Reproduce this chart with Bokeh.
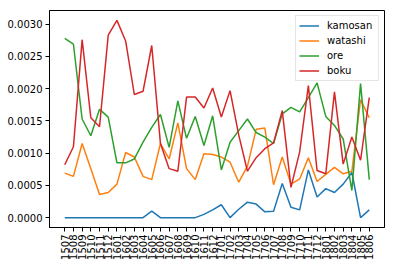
import math
from bokeh.plotting import figure
from bokeh.models import Range1d, FixedTicker, PrintfTickFormatter, Legend, LegendItem
from bokeh.embed import file_html
from bokeh.resources import INLINE

periods = ["1507", "1508", "1509", "1510", "1511", "1512",
           "1601", "1602", "1603", "1604", "1605", "1606", "1607", "1608", "1609", "1610", "1611", "1612",
           "1701", "1702", "1703", "1704", "1705", "1706", "1707", "1708", "1709", "1710", "1711", "1712",
           "1801", "1802", "1803", "1804", "1805", "1806"]

kamosan = [0, 0, 0, 0, 0, 0, 0, 0, 0, 0, 0.0001, 0, 0, 0, 0, 0, 0.00005, 0.00012,
           0.0002, 0, 0.00013, 0.00024, 0.00021, 0.00009, 0.0001, 0.00053, 0.00016, 0.00012,
           0.00074, 0.00032, 0.00045, 0.00039, 0.00052, 0.0007, 0, 0.00012]

watashi = [0.00069, 0.00064, 0.00115, 0.00076, 0.00036, 0.00039, 0.00052, 0.00101, 0.00094,
           0.00064, 0.00059, 0.00115, 0.00091, 0.00147, 0.00076, 0.00059, 0.00099, 0.00098,
           0.00094, 0.00086, 0.00055, 0.0008, 0.00137, 0.00139, 0.00051, 0.00094, 0.00052,
           0.0006, 0.00093, 0.00056, 0.00067, 0.00078, 0.00068, 0.00072, 0.00183, 0.00155]

ore = [0.00278, 0.00269, 0.00153, 0.00127, 0.00168, 0.00156, 0.00085, 0.00085, 0.00091,
       0.00117, 0.0014, 0.0016, 0.00109, 0.00181, 0.00123, 0.00157, 0.00112, 0.00158,
       0.00074, 0.00117, 0.00135, 0.00153, 0.00132, 0.00125, 0.00115, 0.00161, 0.00171,
       0.00164, 0.00186, 0.00209, 0.00157, 0.00143, 0.00122, 0.00042, 0.00208, 0.00059]

boku = [0.00082, 0.0011, 0.00276, 0.00155, 0.00141, 0.00283, 0.00306, 0.00274, 0.00191,
        0.00196, 0.00267, 0.00115, 0.00076, 0.00072, 0.00187, 0.00187, 0.0017, 0.00201,
        0.00156, 0.00197, 0.00128, 0.00072, 0.00093, 0.00107, 0.00116, 0.00166, 0.00047,
        0.00102, 0.00205, 0.00073, 0.00068, 0.00195, 0.00083, 0.00125, 0.00089, 0.00186]

series_names = ["kamosan", "watashi", "ore", "boku"]
series_values = [kamosan, watashi, ore, boku]
colors = ["#1f77b4", "#ff7f0e", "#2ca02c", "#d62728"]

x = list(range(len(periods)))
all_vals = [v for s in series_values for v in s]
ymin, ymax = min(all_vals), max(all_vals)
ypad = (ymax - ymin) * 0.05
xpad = (len(periods) - 1) * 0.05

p = figure(width=394, height=267, output_backend="svg", toolbar_location=None,
           x_range=Range1d(-xpad, len(periods) - 1 + xpad),
           y_range=Range1d(ymin - ypad, ymax + ypad),
           min_border_left=49, min_border_right=10, min_border_top=10, min_border_bottom=40)

p.background_fill_color = "white"
p.border_fill_color = "white"
p.outline_line_color = "black"
p.outline_line_width = 1
p.xgrid.visible = False
p.ygrid.visible = False

items = []
for name, vals, col in zip(series_names, series_values, colors):
    r = p.line(x, vals, line_color=col, line_width=1.5)
    items.append(LegendItem(label=name, renderers=[r]))

p.xaxis.ticker = FixedTicker(ticks=x)
p.xaxis.major_label_overrides = {i: s for i, s in enumerate(periods)}
p.xaxis.major_label_orientation = math.pi / 2
p.yaxis.ticker = FixedTicker(ticks=[0, 0.0005, 0.001, 0.0015, 0.002, 0.0025, 0.003])
p.yaxis.formatter = PrintfTickFormatter(format="%.4f")

for ax in (p.xaxis[0], p.yaxis[0]):
    ax.axis_line_color = "black"
    ax.axis_line_width = 1
    ax.major_tick_line_color = "black"
    ax.major_tick_line_width = 1
    ax.major_tick_in = 0
    ax.major_tick_out = 4
    ax.minor_tick_line_color = None
    ax.major_label_text_font = "DejaVu Sans"
    ax.major_label_text_font_size = "10px"
    ax.major_label_text_color = "black"
    ax.major_label_standoff = 3

legend = Legend(items=items, location="top_right")
legend.margin = 5
legend.padding = 3
legend.spacing = 2
legend.glyph_width = 20
legend.glyph_height = 13
legend.label_height = 13
legend.label_width = 48
legend.label_standoff = 8
legend.label_text_font = "DejaVu Sans"
legend.label_text_font_size = "10px"
legend.label_text_color = "black"
legend.border_line_color = "#cccccc"
legend.border_line_width = 1
legend.background_fill_color = "white"
legend.background_fill_alpha = 0.8
p.add_layout(legend)

open("out.html", "w").write(file_html(p, INLINE))
